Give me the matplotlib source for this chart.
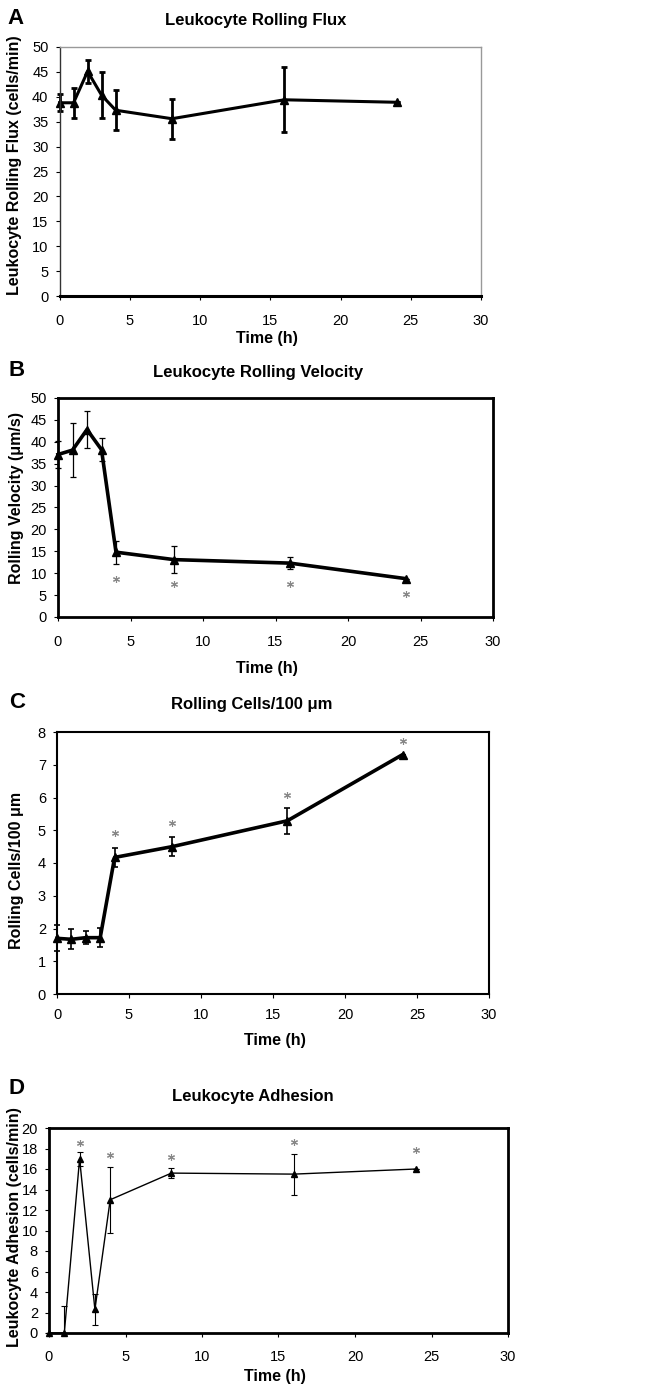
import matplotlib
matplotlib.use("Agg")
import matplotlib.pyplot as plt

plt.rcParams['font.family'] = ['Liberation Sans', 'DejaVu Sans']

W, H = 665, 1386

# ---- data ----
hours = [0, 1, 2, 3, 4, 8, 16, 24]

flux = [38.8, 38.8, 45.1, 40.3, 37.3, 35.6, 39.4, 38.9]
flux_err = [1.7, 3.0, 2.3, 4.6, 4.0, 4.0, 6.5, 0]

velocity = [37.1, 38.1, 42.8, 38.2, 14.8, 13.1, 12.3, 8.75]
velocity_err = [3.0, 6.2, 4.2, 2.6, 2.6, 3.0, 1.4, 0]
velocity_star_x = [4, 8, 16, 24]
velocity_star_y = [8.75, 7.5, 7.6, 5.2]

cells = [1.70, 1.67, 1.72, 1.72, 4.17, 4.50, 5.29, 7.31]
cells_err = [0.4, 0.3, 0.2, 0.29, 0.3, 0.3, 0.4, 0]
cells_star_x = [4, 8, 16, 24]
cells_star_y = [4.93, 5.22, 6.09, 7.74]

adhesion = [0, 0, 17.0, 2.3, 13.0, 15.6, 15.5, 16.0]
adhesion_err_low = [0, 0, 0.7, 1.5, 3.2, 0.5, 2.0, 0]
adhesion_err_high = [0, 2.6, 0.7, 1.5, 3.2, 0.5, 2.0, 0]
adhesion_star_x = [2, 4, 8, 16, 24]
adhesion_star_y = [18.57, 17.33, 17.2, 18.6, 17.9]

fig = plt.figure(figsize=(W / 100, H / 100), dpi=100)


def px_axes(left, right, top, bottom):
    return fig.add_axes([left / W, 1 - bottom / H, (right - left) / W, (bottom - top) / H])


def ftext(x, y, s, **kw):
    fig.text(x / W, 1 - y / H, s, ha='center', va='center', **kw)


def style(ax, ymax, ystep, spine_w, xpad=10):
    ax.set_xlim(0, 30)
    ax.set_ylim(0, ymax)
    ax.set_xticks(range(0, 31, 5))
    ax.set_yticks([v for v in range(0, ymax + 1, ystep)])
    ax.tick_params(direction='out', length=3, width=0.8, labelsize=10.5, pad=5)
    ax.tick_params(axis='x', pad=xpad)
    for s in ax.spines.values():
        s.set_linewidth(spine_w)
        s.set_color('black')


def draw(ax, y, yerr, lw, ms, elw):
    line, caps, bars = ax.errorbar(hours, y, yerr=yerr, color='black', lw=lw, marker='^', ms=ms,
                                   elinewidth=elw, capsize=2.5, capthick=elw)
    for art in [line, *caps, *bars]:
        art.set_clip_on(False)


def stars(ax, xs, ys):
    ax.plot(xs, ys, ls='none', marker=(6, 2, 0), ms=5, mew=0.8, color='#888888', clip_on=False)


# ---- A ----
ax = px_axes(59.5, 481, 47, 296)
style(ax, 50, 5, 1.0)
ax.spines['bottom'].set_linewidth(2.2)
ax.spines['left'].set_color('#333333')
ax.spines['top'].set_color('#999999')
ax.spines['right'].set_color('#999999')
draw(ax, flux, flux_err, 2.2, 6, 2.0)
ftext(15, 18, 'A', fontsize=16, fontweight='bold')
ftext(256, 20, 'Leukocyte Rolling Flux', fontsize=12, fontweight='bold')
ftext(15, 165, 'Leukocyte Rolling Flux (cells/min)', fontsize=11.5, fontweight='bold', rotation=90)
ftext(267, 338, 'Time (h)', fontsize=11.5, fontweight='bold')

# ---- B ----
ax = px_axes(58, 493, 398, 617)
style(ax, 50, 5, 2.0)
draw(ax, velocity, velocity_err, 2.6, 6, 0.9)
stars(ax, velocity_star_x, velocity_star_y)
ftext(17, 370, 'B', fontsize=16, fontweight='bold')
ftext(258, 373, 'Leukocyte Rolling Velocity', fontsize=12, fontweight='bold')
ftext(17, 498, 'Rolling Velocity (μm/s)', fontsize=11.5, fontweight='bold', rotation=90)
ftext(267, 668, 'Time (h)', fontsize=11.5, fontweight='bold')

# ---- C ----
ax = px_axes(57, 489, 732, 994)
style(ax, 8, 1, 1.5, xpad=7)
draw(ax, cells, cells_err, 2.6, 6, 1.2)
stars(ax, cells_star_x, cells_star_y)
ftext(17, 703, 'C', fontsize=16, fontweight='bold')
ftext(252, 705, 'Rolling Cells/100 μm', fontsize=12, fontweight='bold')
ftext(17, 870, 'Rolling Cells/100 μm', fontsize=11.5, fontweight='bold', rotation=90)
ftext(275, 1040, 'Time (h)', fontsize=11.5, fontweight='bold')

# ---- D ----
ax = px_axes(49, 508, 1128, 1333)
style(ax, 20, 2, 2.0, xpad=9)
draw(ax, adhesion, [adhesion_err_low, adhesion_err_high], 1.0, 5, 0.8)
stars(ax, adhesion_star_x, adhesion_star_y)
ftext(17, 1089, 'D', fontsize=16, fontweight='bold')
ftext(253, 1096, 'Leukocyte Adhesion', fontsize=12, fontweight='bold')
ftext(15, 1227, 'Leukocyte Adhesion (cells/min)', fontsize=11.5, fontweight='bold', rotation=90)
ftext(275, 1377, 'Time (h)', fontsize=11.5, fontweight='bold')

fig.savefig('out.png', dpi=100)
